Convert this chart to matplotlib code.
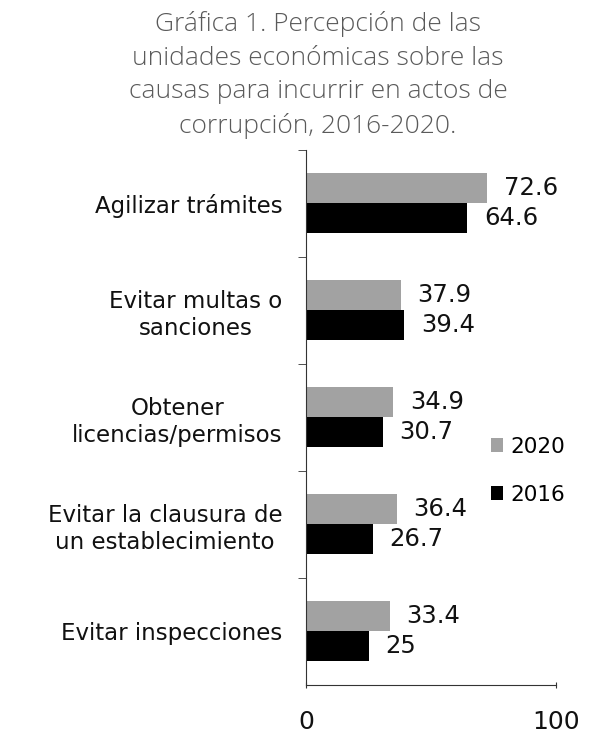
import numpy as np
import matplotlib.pyplot as plt

categories = ['Agilizar trámites', 'Evitar multas o\nsanciones', 'Obtener\nlicencias/permisos',
              'Evitar la clausura de\nun establecimiento', 'Evitar inspecciones']
values_2020 = [72.6, 37.9, 34.9, 36.4, 33.4]
values_2016 = [64.6, 39.4, 30.7, 26.7, 25]
labels_2020 = ['72.6', '37.9', '34.9', '36.4', '33.4']
labels_2016 = ['64.6', '39.4', '30.7', '26.7', '25']

plt.rcParams['font.family'] = ['DejaVu Sans']

fig = plt.figure(figsize=(5.92, 7.38), dpi=100)
ax = fig.add_axes([0.517, 0.072, 0.422, 0.725])

y = np.arange(len(categories))
h = 0.28
b20 = ax.barh(y - h / 2, values_2020, height=h, color='#a2a2a2', label='2020')
b16 = ax.barh(y + h / 2, values_2016, height=h, color='black', label='2016')

for yi, v, lab in zip(y, values_2020, labels_2020):
    ax.annotate(lab, (v, yi - h / 2), xytext=(12, 0), textcoords='offset points',
                va='center', ha='left', fontsize=17.5, color='#111111')
for yi, v, lab in zip(y, values_2016, labels_2016):
    ax.annotate(lab, (v, yi + h / 2), xytext=(12, 0), textcoords='offset points',
                va='center', ha='left', fontsize=17.5, color='#111111')

ax.set_xlim(0, 100)
ax.set_ylim(4.5, -0.5)
ax.set_yticks(y)
ax.set_yticklabels(categories, fontsize=16.5, multialignment='center', color='#111111',
                   linespacing=1.25)
ax.tick_params(axis='y', length=0, pad=17)
ax.set_yticks(np.arange(-0.5, 4, 1.0), minor=True)
ax.tick_params(axis='y', which='minor', length=6, direction='out', color='#333333')

ax.set_xticks([0, 100])
ax.set_xticklabels(['0', '100'], fontsize=18, color='#111111')
ax.tick_params(axis='x', length=4, direction='inout', pad=16, color='#333333')

for s in ['top', 'right']:
    ax.spines[s].set_visible(False)
ax.spines['left'].set_color('#333333')
ax.spines['bottom'].set_color('#333333')

ax.legend(handles=[b20, b16], loc='center left', bbox_to_anchor=(0.74, 0.40), frameon=False,
          fontsize=15.5, handlelength=0.55, handleheight=0.6, handletextpad=0.35,
          labelspacing=1.3, borderpad=0, borderaxespad=0)

fig.text(0.537, 0.985, 'Gráfica 1. Percepción de las\nunidades económicas sobre las\n'
         'causas para incurrir en actos de\ncorrupción, 2016-2020.',
         ha='center', va='top', fontsize=19, color='#5a5a5a', linespacing=1.45,
         family='Open Sans', fontweight='light')

fig.savefig('out.png', dpi=100)
